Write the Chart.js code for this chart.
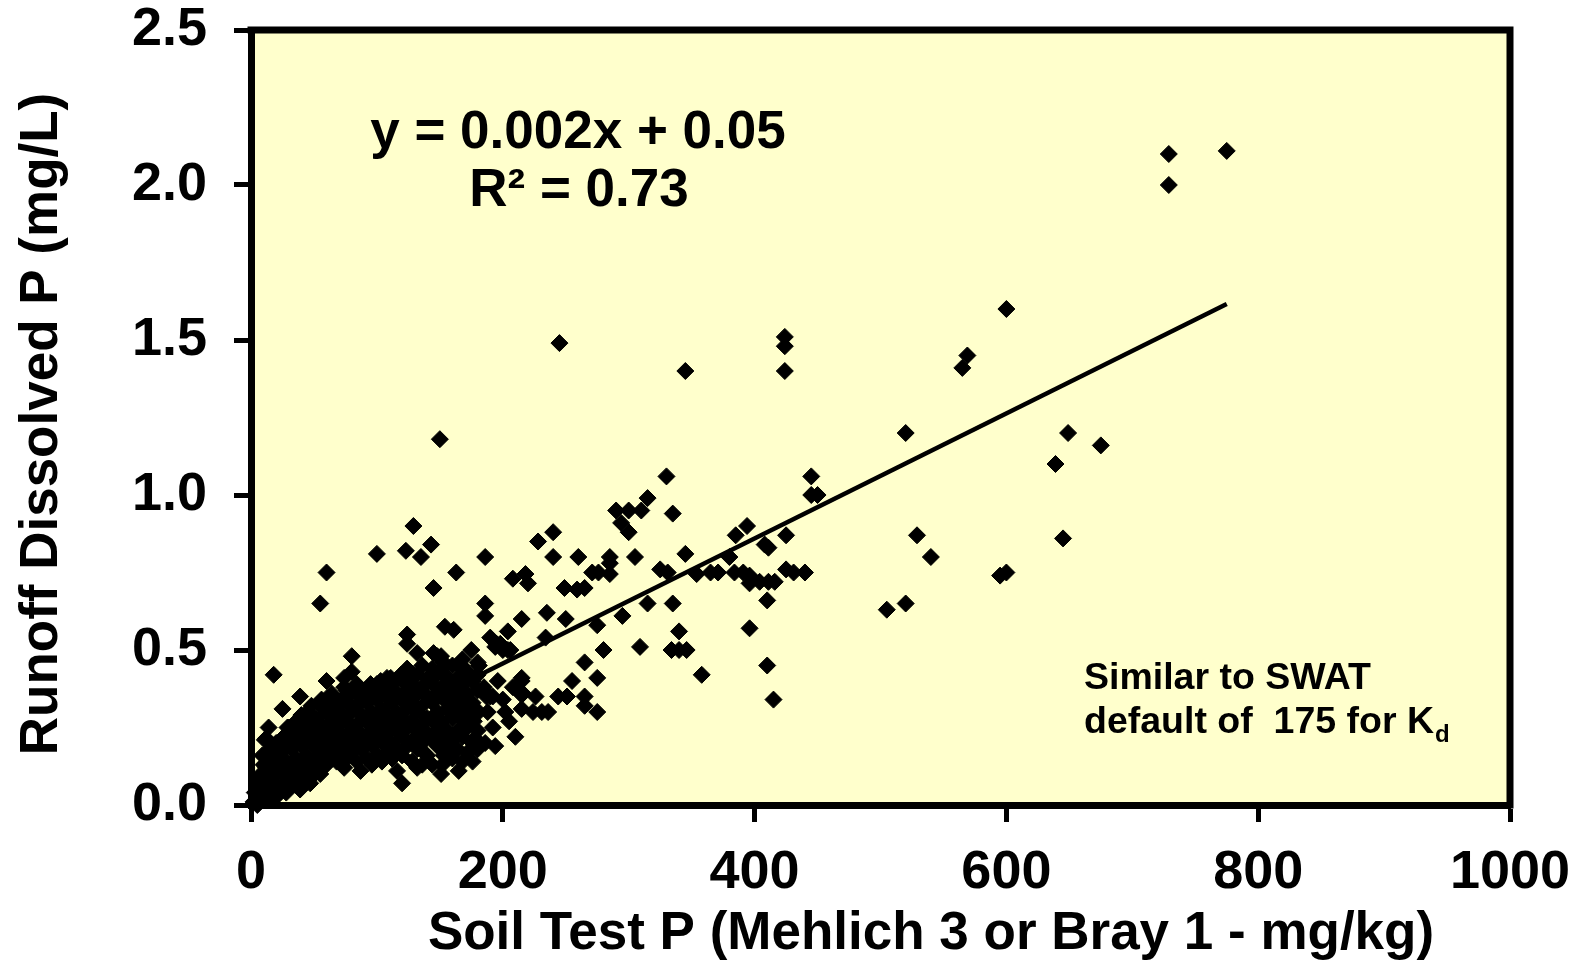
<!DOCTYPE html>
<html>
<head>
<meta charset="utf-8">
<script src="https://cdn.jsdelivr.net/npm/chart.js@4/dist/chart.umd.min.js"></script>
<style>
  html, body { margin: 0; padding: 0; background: #fff; }
  #wrap { width: 1579px; height: 960px; }
</style>
</head>
<body>
<div id="wrap"><canvas id="chart"></canvas></div>
<script>
/*********** data: [soil test P mg/kg, runoff dissolved P mg/L] ***********/
const highPoints = [
  [729,2.10],[729,2.00],[775,2.11],[600,1.60],[569,1.45],[565,1.41],[520,1.20],[649,1.20],
  [675,1.16],[639,1.10],[645,0.86],[529,0.87],[540,0.80],[595,0.74],[600,0.75],[505,0.63],
  [520,0.65],[245,1.49],[345,1.40],[150,1.18],[424,1.51],[424,1.48],[424,1.40]
];
const midPoints = [
  [330,1.06],[445,1.06],[445,1.00],[450,1.00],[315,0.99],[290,0.95],[300,0.95],[310,0.95],
  [335,0.94],[294,0.91],[300,0.88],[394,0.90],[385,0.87],[425,0.87],[408,0.84],[411,0.83],
  [240,0.88],[228,0.85],[186,0.80],[240,0.80],[260,0.80],[285,0.80],[285,0.78],[305,0.80],
  [345,0.81],[208,0.73],[218,0.745],[220,0.715],[249,0.70],[259,0.695],[265,0.70],[271,0.75],
  [276,0.75],[285,0.745],[325,0.76],[331,0.75],[354,0.745],[365,0.75],[371,0.75],[380,0.80],
  [384,0.75],[391,0.75],[396,0.74],[396,0.715],[404,0.72],[411,0.72],[416,0.72],[425,0.76],
  [431,0.75],[440,0.75],[410,0.66],[396,0.57],[410,0.45],[415,0.34],[186,0.65],[186,0.61],
  [215,0.60],[235,0.62],[250,0.60],[204,0.56],[190,0.54],[194,0.51],[200,0.50],[206,0.50],
  [234,0.54],[275,0.58],[295,0.61],[315,0.65],[335,0.65],[340,0.56],[334,0.50],[340,0.50],
  [346,0.50],[309,0.51],[280,0.50],[358,0.42],[265,0.46],[275,0.41],[255,0.40],[215,0.41],
  [187,0.35],[192,0.35],[216,0.36],[226,0.35],[244,0.35],[251,0.35],[265,0.35],[202,0.30],
  [215,0.31],[224,0.30],[231,0.30],[236,0.30],[265,0.32],[275,0.30],[181,0.30],[181,0.45]
];
const lowPoints = [
  [129,0.90],[143,0.84],[123,0.82],[135,0.80],[100,0.81],[163,0.75],[145,0.70],[154,0.575],
  [161,0.565],[124,0.55],[124,0.52],[132,0.49],[145,0.49],[151,0.48],[175,0.50],[165,0.45],
  [195,0.52],[60,0.75],[55,0.65],[80,0.48],[18,0.42],[60,0.40],[80,0.43],[39,0.35],
  [25,0.31],[14,0.25],[11,0.21],[9,0.16],[29,0.25],[45,0.30],[46,0.26],[63,0.33],
  [58,0.31],[74,0.38],[74,0.41],[86,0.355],[95,0.39],[103,0.40],[111,0.41],[119,0.42],
  [127,0.42],[148,0.48],[153,0.46],[180,0.46],[167,0.45],[164,0.41],[108,0.38],[94,0.28],
  [111,0.25],[118,0.27],[127,0.34],[132,0.21],[137,0.17],[140,0.23],[116,0.11],[120,0.07],
  [148,0.19],[153,0.16],[165,0.11],[151,0.10],[178,0.215],[164,0.24],[169,0.27],[159,0.31],
  [153,0.34],[177,0.27],[74,0.12],[87,0.11],[69,0.17],[79,0.19],[55,0.10],[47,0.07],
  [39,0.05],[21,0.03],[10,0.02],[5,0.0],[12,0.215],[10,0.13],[30,0.25],[26,0.22],
  [23,0.19],[44,0.26],[132,0.12],[190,0.35],[215,0.40],[215,0.355],[198,0.52],[204,0.50],
  [185,0.38],[188,0.30],[192,0.25],[196,0.40],[200,0.34],[205,0.27],[208,0.38],[210,0.22],
  [186,0.20],[194,0.19]
];
// solid black mass near the origin
const clusterPoints = [
  [2,0.01],[3,0.04],[5,0.02],[5,0.05],[5,0.08],[8,0.04],[8,0.10],[8,0.06],[12,0.03],[12,0.08],
  [12,0.12],[15,0.05],[15,0.10],[15,0.15],[15,0.18],[18,0.02],[18,0.07],[18,0.13],[20,0.10],
  [20,0.16],[20,0.20],[24,0.06],[24,0.12],[24,0.17],[28,0.04],[28,0.09],[28,0.14],[28,0.20],
  [32,0.07],[32,0.12],[32,0.18],[32,0.22],[36,0.10],[36,0.15],[36,0.21],[36,0.27],[40,0.08],
  [40,0.13],[40,0.19],[40,0.24],[40,0.29],[44,0.11],[44,0.16],[44,0.22],[48,0.09],[48,0.14],
  [48,0.20],[48,0.25],[48,0.32],[52,0.12],[52,0.18],[52,0.23],[52,0.28],[56,0.15],[56,0.21],
  [56,0.26],[56,0.34],[60,0.13],[60,0.19],[60,0.24],[60,0.30],[64,0.16],[64,0.22],[64,0.27],
  [64,0.36],[68,0.14],[68,0.20],[68,0.25],[68,0.31],[72,0.18],[72,0.23],[72,0.29],[72,0.34],
  [76,0.15],[76,0.21],[76,0.27],[76,0.33],[76,0.37],[80,0.17],[80,0.24],[80,0.30],[80,0.36],
  [84,0.14],[84,0.20],[84,0.26],[84,0.32],[84,0.39],[88,0.18],[88,0.23],[88,0.29],[88,0.35],
  [92,0.15],[92,0.21],[92,0.27],[92,0.33],[92,0.37],[96,0.13],[96,0.19],[96,0.24],[96,0.30],
  [96,0.36],[100,0.16],[100,0.22],[100,0.28],[100,0.34],[100,0.39],[104,0.14],[104,0.20],
  [104,0.26],[104,0.31],[104,0.37],[108,0.17],[108,0.23],[108,0.29],[108,0.35],[108,0.41],
  [112,0.15],[112,0.20],[112,0.27],[112,0.33],[112,0.39],[116,0.18],[116,0.24],[116,0.30],
  [116,0.36],[120,0.16],[120,0.22],[120,0.28],[120,0.34],[120,0.40],[124,0.19],[124,0.25],
  [124,0.31],[124,0.37],[124,0.44],[128,0.14],[128,0.21],[128,0.27],[128,0.33],[128,0.39],
  [132,0.18],[132,0.24],[132,0.30],[132,0.36],[132,0.42],[136,0.13],[136,0.20],[136,0.26],
  [136,0.32],[136,0.38],[136,0.45],[140,0.16],[140,0.28],[140,0.35],[140,0.41],[144,0.13],
  [144,0.21],[144,0.27],[144,0.33],[144,0.39],[144,0.44],[148,0.24],[148,0.30],[148,0.36],
  [148,0.42],[152,0.13],[152,0.21],[152,0.27],[152,0.38],[152,0.44],[156,0.18],[156,0.24],
  [156,0.31],[156,0.35],[156,0.41],[160,0.15],[160,0.21],[160,0.28],[160,0.34],[160,0.39],
  [160,0.45],[164,0.18],[164,0.30],[164,0.36],[168,0.14],[168,0.22],[168,0.33],[168,0.39],
  [168,0.47],[172,0.17],[172,0.25],[172,0.30],[172,0.36],[172,0.43],[176,0.14],[176,0.20],
  [176,0.33],[176,0.40],[180,0.18],[180,0.24],[180,0.37],[180,0.42]
];
// fitted line end points
const trendX = [0, 775];
const trendY = [0.053, 1.616];

const xTicks = [0, 200, 400, 600, 800, 1000];
const yTicks = [0.0, 0.5, 1.0, 1.5, 2.0, 2.5];

const FONT = '"Liberation Sans", Arial, sans-serif';

const allPoints = highPoints.concat(midPoints, lowPoints, clusterPoints)
  .map(p => ({x: p[0], y: p[1]}));
const trendLine = trendX.map((x, i) => ({x: x, y: trendY[i]}));

/*********** background, frame and text ***********/
const plotDecor = {
  id: 'plotDecor',
  beforeDraw(chart) {
    const {ctx, chartArea: a} = chart;
    ctx.save();
    ctx.fillStyle = '#FFFFCC';
    ctx.fillRect(a.left, a.top, a.right - a.left, a.bottom - a.top);
    ctx.restore();
  },
  beforeDatasetsDraw(chart) {
    const {ctx, chartArea: a} = chart;
    ctx.save();
    ctx.strokeStyle = '#000';
    ctx.lineWidth = 7;
    ctx.beginPath();
    ctx.moveTo(a.left - 3.5, a.top);
    ctx.lineTo(a.right, a.top);
    ctx.lineTo(a.right, a.bottom + 3.5);
    ctx.stroke();
    ctx.restore();
  },
  afterDraw(chart) {
    const ctx = chart.ctx;
    ctx.save();
    ctx.fillStyle = '#000';
    // axis titles
    ctx.font = 'bold 53px ' + FONT;
    ctx.textAlign = 'center';
    ctx.textBaseline = 'alphabetic';
    ctx.fillText('Soil Test P (Mehlich 3 or Bray 1 - mg/kg)', 931, 949);
    ctx.save();
    ctx.translate(57, 424);
    ctx.rotate(-Math.PI / 2);
    ctx.fillText('Runoff Dissolved P (mg/L)', 0, 0);
    ctx.restore();
    // equation
    ctx.fillText('y = 0.002x + 0.05', 578, 148);
    ctx.fillText('R² = 0.73', 579, 206);
    // note
    ctx.textAlign = 'left';
    ctx.font = 'bold 37.5px ' + FONT;
    ctx.fillText('Similar to SWAT', 1084, 689);
    const line2 = 'default of  175 for K';
    ctx.fillText(line2, 1084, 733);
    const w = ctx.measureText(line2).width;
    ctx.font = 'bold 24px ' + FONT;
    ctx.fillText('d', 1085 + w, 742);
    ctx.restore();
  }
};

const ctx = document.getElementById('chart');
new Chart(ctx, {
  type: 'scatter',
  data: {
    datasets: [
      {
        type: 'line',
        label: 'Linear fit',
        data: trendLine,
        borderColor: '#000',
        borderWidth: 4.5,
        pointRadius: 0,
        fill: false,
        tension: 0
      },
      {
        label: 'Runoff dissolved P',
        data: allPoints,
        pointStyle: 'rectRot',
        pointRadius: 8.5,
        pointBackgroundColor: '#000',
        pointBorderColor: '#000',
        pointBorderWidth: 1,
        clip: false
      }
    ]
  },
  options: {
    responsive: true,
    maintainAspectRatio: false,
    animation: false,
    layout: { padding: { top: 30, right: 69, left: 0, bottom: 0 } },
    plugins: {
      legend: { display: false },
      tooltip: { enabled: false }
    },
    scales: {
      x: {
        type: 'linear',
        min: 0, max: 1000,
        afterBuildTicks: s => { s.ticks = xTicks.map(v => ({value: v})); },
        afterFit: s => { s.height = 155; s.paddingLeft = 0; s.paddingRight = 0; },
        border: { display: true, color: '#000', width: 7 },
        grid: { drawOnChartArea: false, drawTicks: true, tickLength: 17, tickWidth: 5, tickColor: '#000' },
        ticks: {
          color: '#000', padding: 19, maxRotation: 0,
          font: { family: FONT, size: 54, weight: 'bold' },
          callback: v => String(v)
        }
      },
      y: {
        type: 'linear',
        min: 0, max: 2.5,
        afterBuildTicks: s => { s.ticks = yTicks.map(v => ({value: v})); },
        afterFit: s => { s.width = 251; s.paddingTop = 0; s.paddingBottom = 0; },
        border: { display: true, color: '#000', width: 7 },
        grid: { drawOnChartArea: false, drawTicks: true, tickLength: 17, tickWidth: 5, tickColor: '#000' },
        ticks: {
          color: '#000', padding: 27,
          font: { family: FONT, size: 54, weight: 'bold' },
          callback: v => Number(v).toFixed(1)
        }
      }
    }
  },
  plugins: [plotDecor]
});
</script>
</body>
</html>
